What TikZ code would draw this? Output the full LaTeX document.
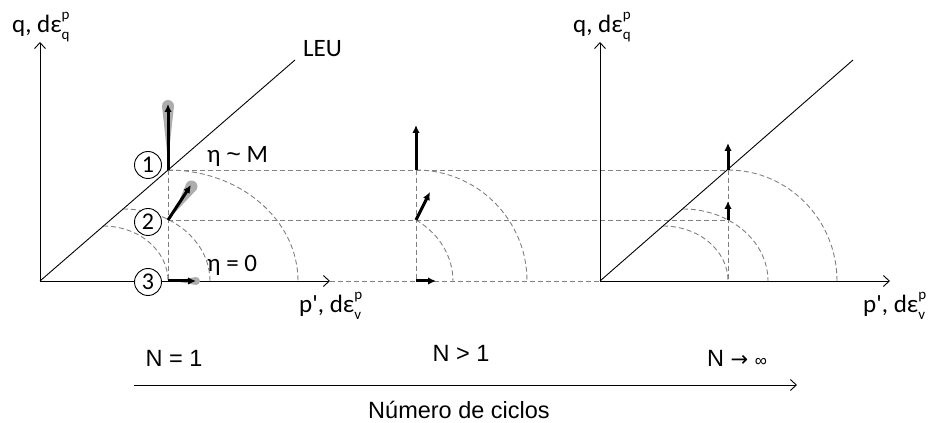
\documentclass[tikz,border=0pt]{standalone}
\usepackage{fontspec}
\newfontfamily\calfont{Carlito}
\newfontfamily\arialfont{Liberation Sans}
\newfontfamily\djv{DejaVu Sans}
\usetikzlibrary{arrows.meta}
\definecolor{dashgray}{gray}{0.5}
\definecolor{halogray}{gray}{0.68}
\newcommand{\supsub}[2]{\rlap{\raisebox{0.52em}{\fontsize{15}{15}\selectfont #1}}\raisebox{-0.25em}{\fontsize{15}{15}\selectfont #2}}
\tikzset{
  axis/.style={line width=0.9pt,-{Straight Barb[length=6pt,width=11pt]}},
  leu/.style={line width=0.9pt},
  guide/.style={draw=dashgray,line width=0.9pt,dash pattern=on 5pt off 3pt},
  vec/.style={line width=3pt,-{Latex[length=8pt,width=7.5pt]}},
  lbl/.style={font=\calfont\fontsize{25}{30}\selectfont,inner sep=0pt},
  cyc/.style={font=\arialfont\fontsize{23.5}{28}\selectfont,inner sep=0pt},
  num/.style={circle,draw,line width=0.9pt,minimum size=27pt,inner sep=0pt,fill=white,font=\calfont\fontsize{24}{28}\selectfont},
  halo/.style={fill=halogray},
}
\newcommand{\halodrop}[5]{\fill[halo,shift={(#1,#2)},rotate=#3] (0,-#4) arc[start angle=-90,end angle=90,radius=#4] -- (-#5,0) -- cycle;}
\begin{document}
\begin{tikzpicture}[x=1pt,y=1pt]
\useasboundingbox (0,0) rectangle (935,423);
% key points
\coordinate (O1) at (40,142);
\coordinate (Y1) at (40,381);
\coordinate (X1) at (330,142);
\coordinate (L1) at (295,363);
\coordinate (O2) at (600,142);
\coordinate (Y2) at (600,381);
\coordinate (X2) at (890,142);
\coordinate (L2) at (853,363);
\coordinate (P1) at (168,253);
\coordinate (P2) at (168,203);
\coordinate (P3) at (168,142);
\coordinate (M1) at (416,253);
\coordinate (M2) at (416,203);
\coordinate (M3) at (416,142);
\coordinate (R1) at (728,253);
\coordinate (R2) at (728,203);
\coordinate (R3) at (728,142);
% guides
\draw[guide] (P1) -- (R1);
\draw[guide] (P2) -- (R2);
\draw[guide] (X1) -- (O2);
\draw[guide] (P1) -- (P3);
\draw[guide] (M1) -- (M3);
\draw[guide] (R1) -- (R3);
% left ellipses
\draw[guide] (P1) arc[start angle=90,end angle=0,x radius=130,y radius=111];
\draw[guide] (123,214) arc[start angle=90,end angle=0,x radius=87,y radius=72];
\draw[guide] (103,197) arc[start angle=90,end angle=0,x radius=65,y radius=55];
% middle ellipses
\draw[guide] (M1) arc[start angle=90,end angle=0,x radius=111,y radius=111];
\draw[guide] (M2) arc[start angle=56.7,end angle=0,x radius=82,y radius=73];
% right ellipses
\draw[guide] (R1) arc[start angle=90,end angle=0,x radius=109,y radius=111];
\draw[guide] (683,214) arc[start angle=90,end angle=0,x radius=85,y radius=72];
\draw[guide] (663,197) arc[start angle=90,end angle=0,x radius=65,y radius=55];
% axes
\draw[axis] (O1) -- (Y1);
\draw[axis] (O1) -- (X1);
\draw[leu] (O1) -- (L1);
\draw[axis] (O2) -- (Y2);
\draw[axis] (O2) -- (X2);
\draw[leu] (O2) -- (L2);
% halos
\halodrop{168}{317}{90}{6}{55}
\halodrop{191.5}{236.5}{57}{6}{32}
\halodrop{196}{142}{0}{4}{22}
% vectors
\coordinate (P1e) at (168,319);
\coordinate (P2e) at (191,238);
\coordinate (P3e) at (196,142);
\coordinate (M1e) at (416,298);
\coordinate (M2e) at (430,231);
\coordinate (M3e) at (436,142);
\coordinate (R1e) at (728,280);
\coordinate (R2e) at (728,222);
\draw[vec] (P1) -- (P1e);
\draw[vec] (P2) -- (P2e);
\draw[vec] (P3) -- (P3e);
\draw[vec] (M1) -- (M1e);
\draw[vec] (M2) -- (M2e);
\draw[vec] (M3) -- (M3e);
\draw[vec] (R1) -- (R1e);
\draw[vec] (R2) -- (R2e);
% circled numbers
\node[num] (c1) at (148,258) {1};
\node[num] (c2) at (148,201) {2};
\node[num] (c3) at (148,141) {3};
% labels
\node[lbl,anchor=base west] (qa) at (12,390) {q, dε\supsub{p}{q}};
\node[lbl,anchor=base west] (qb) at (573,390) {q, dε\supsub{p}{q}};
\node[lbl,anchor=base west] (pa) at (299,110) {p', dε\supsub{p}{v}};
\node[lbl,anchor=base west] (pb) at (863,110) {p', dε\supsub{p}{v}};
\node[lbl,anchor=base west] (leu) at (303,366) {LEU};
\node[lbl,anchor=base west] (etaM) at (207,260) {η {\arialfont\string~} M};
\node[lbl,anchor=base west] (eta0) at (207,151) {η = 0};
% cycles
\node[cyc,anchor=base] (n1) at (174,56) {N = 1};
\node[cyc,anchor=base] (n2) at (461,61) {N > 1};
\node[cyc,anchor=base] (n3) at (737,56) {N {\djv\fontsize{21}{24}\selectfont →} {\fontsize{17}{20}\selectfont ∞}};
\coordinate (A0) at (134,38);
\coordinate (A1) at (797,38);
\draw[axis] (A0) -- (A1);
\node[cyc,anchor=base] (nc) at (459,4) {Número de ciclos};
\end{tikzpicture}
\end{document}
